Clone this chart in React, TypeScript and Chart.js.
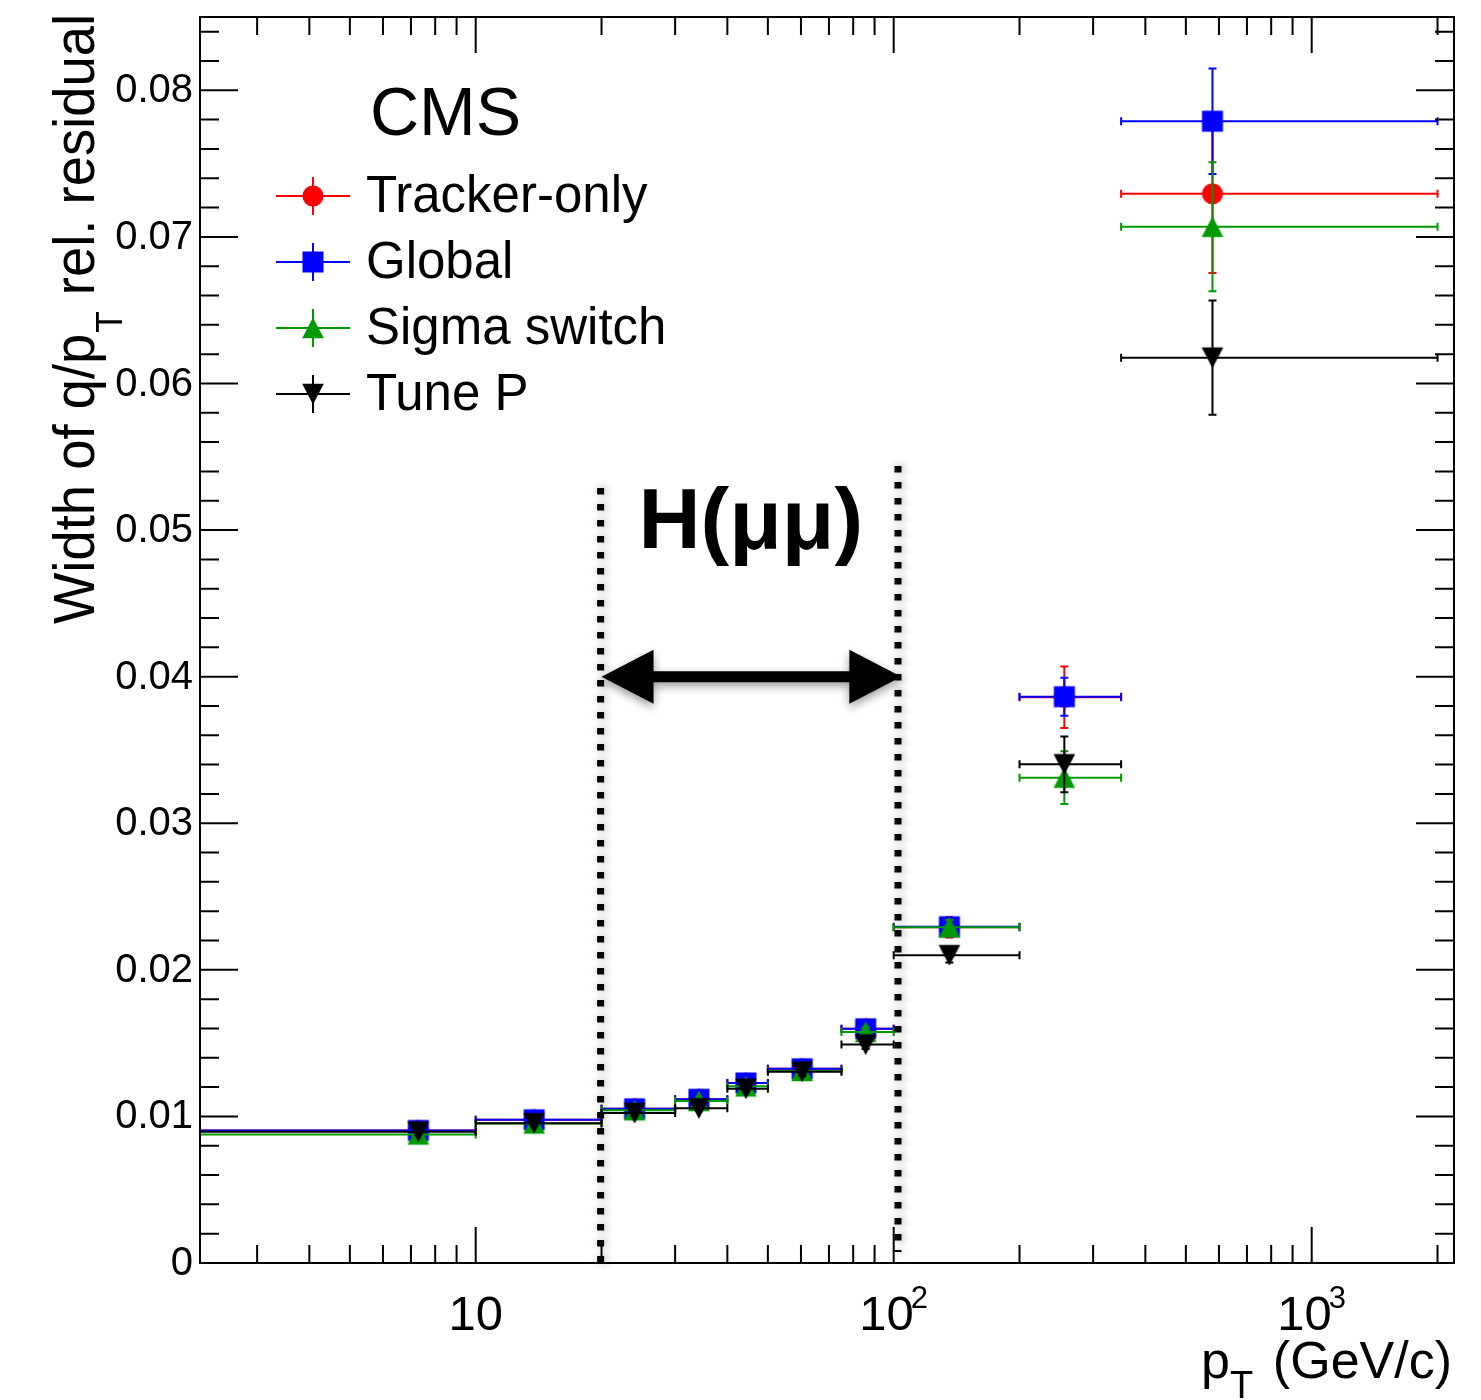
import React, { useEffect, useRef } from "react";
import { Chart, registerables } from "chart.js";

Chart.register(...registerables);

const FONT = '"Liberation Sans", Arial, Helvetica, sans-serif';

// ---------------- data ----------------
// p_T bins (GeV/c)
const binLow = [2, 10, 20, 30, 40, 50, 75, 100, 200, 350];
const binHigh = [10, 20, 30, 40, 50, 75, 100, 200, 350, 2000];
const ptMean = [7.29, 13.8, 24.0, 34.2, 44.3, 60.4, 85.7, 135.9, 256, 579];

const trackerOnly = [0.00904, 0.00977, 0.01052, 0.01117, 0.01228, 0.01325, 0.01598, 0.0229, 0.0386, 0.07294];
const trackerOnlyErr = [0.0002, 0.0002, 0.0002, 0.0002, 0.0002, 0.0003, 0.0003, 0.0007, 0.0021, 0.0054];
const globalMu = [0.00904, 0.00977, 0.01052, 0.01117, 0.01228, 0.01325, 0.01598, 0.02294, 0.03863, 0.07789];
const globalMuErr = [0.0002, 0.0002, 0.0002, 0.0002, 0.0002, 0.0003, 0.0003, 0.0005, 0.0013, 0.0036];
const sigmaSwitch = [0.00877, 0.00952, 0.01042, 0.01105, 0.01205, 0.0131, 0.01576, 0.0229, 0.03311, 0.07069];
const sigmaSwitchErr = [0.0002, 0.0002, 0.0002, 0.0002, 0.0002, 0.0003, 0.0003, 0.0005, 0.0018, 0.0044];
const tuneP = [0.00896, 0.00953, 0.01023, 0.01055, 0.01189, 0.01305, 0.0149, 0.0210, 0.03402, 0.06176];
const tunePErr = [0.0002, 0.0002, 0.0002, 0.0002, 0.0002, 0.0003, 0.0003, 0.0005, 0.0019, 0.0039];

const seriesNames = ["Tracker-only", "Global", "Sigma switch", "Tune P"];
const seriesColors = ["#ff0000", "#0000ff", "#009900", "#000000"];
const seriesMarkers = ["circle", "square", "triangleUp", "triangleDown"];

const yTickValues = [0, 0.01, 0.02, 0.03, 0.04, 0.05, 0.06, 0.07, 0.08];
const yTickLabels = ["0", "0.01", "0.02", "0.03", "0.04", "0.05", "0.06", "0.07", "0.08"];
const xTickValues = [10, 100, 1000];
const xTickBase = ["10", "10", "10"];
const xTickExp = ["", "2", "3"];

const X_MIN = 2.19;
const X_MAX = 2190;
const Y_MIN = 0;
const Y_MAX = 0.085;

// annotation (data coordinates)
const windowLines = [19.9, 102.4];
const windowLineTop = [0.05287, 0.05437];
const windowLineBottom = [-0.00061, 0.00075];
const arrowFrom = 20.0;
const arrowTo = 104.3;
const arrowY = 0.04;
const higgsLabel = "H(\u03bc\u03bc)";
const higgsLabelX = 45.5;
const higgsLabelY = 0.0488;

// ---------------- markers ----------------
function makeMarker(kind: string, color: string): HTMLCanvasElement {
  const c = document.createElement("canvas");
  c.width = 26;
  c.height = 26;
  const g = c.getContext("2d")!;
  g.fillStyle = color;
  g.beginPath();
  if (kind === "circle") {
    g.arc(13, 13, 10.5, 0, Math.PI * 2);
  } else if (kind === "square") {
    g.rect(2.5, 2.5, 21, 21);
  } else if (kind === "triangleUp") {
    g.moveTo(13, 2.5);
    g.lineTo(23.8, 23.2);
    g.lineTo(2.2, 23.2);
    g.closePath();
  } else {
    g.moveTo(2.2, 2.8);
    g.lineTo(23.8, 2.8);
    g.lineTo(13, 23.5);
    g.closePath();
  }
  g.fill();
  return c;
}

const seriesValues = [trackerOnly, globalMu, sigmaSwitch, tuneP];
const seriesErrors = [trackerOnlyErr, globalMuErr, sigmaSwitchErr, tunePErr];

let markerCanvases: HTMLCanvasElement[] = [];

function drawRootPlugin() {
  return {
    id: "rootStyle",
    beforeDatasetDraw(chart: any, args: any) {
      const k = args.index;
      const ctx = chart.ctx as CanvasRenderingContext2D;
      const xs = chart.scales.x;
      const ys = chart.scales.y;
      const a = chart.chartArea;
      const vals = seriesValues[k];
      const errs = seriesErrors[k];
      ctx.save();
      ctx.beginPath();
      ctx.rect(a.left, a.top, a.right - a.left, a.bottom - a.top);
      ctx.clip();
      ctx.strokeStyle = seriesColors[k];
      ctx.lineWidth = 2;
      const cap = 4;
      for (let i = 0; i < vals.length; i++) {
        const px = xs.getPixelForValue(ptMean[i]);
        const py = ys.getPixelForValue(vals[i]);
        const x1 = xs.getPixelForValue(binLow[i]);
        const x2 = xs.getPixelForValue(binHigh[i]);
        const yt = ys.getPixelForValue(vals[i] + errs[i]);
        const yb = ys.getPixelForValue(vals[i] - errs[i]);
        ctx.beginPath();
        ctx.moveTo(x1, py);
        ctx.lineTo(x2, py);
        ctx.moveTo(x1, py - cap);
        ctx.lineTo(x1, py + cap);
        ctx.moveTo(x2, py - cap);
        ctx.lineTo(x2, py + cap);
        ctx.moveTo(px, yt);
        ctx.lineTo(px, yb);
        ctx.moveTo(px - cap, yt);
        ctx.lineTo(px + cap, yt);
        ctx.moveTo(px - cap, yb);
        ctx.lineTo(px + cap, yb);
        ctx.stroke();
      }
      ctx.restore();
    },
    afterDraw(chart: any) {
      const ctx = chart.ctx as CanvasRenderingContext2D;
      const xs = chart.scales.x;
      const ys = chart.scales.y;
      const a = chart.chartArea;
      ctx.save();

      // ---- window lines (dotted, thick, with soft shadow)
      ctx.fillStyle = "#000";
      ctx.shadowColor = "rgba(0,0,0,0.4)";
      ctx.shadowBlur = 9;
      ctx.shadowOffsetX = 2;
      for (let j = 0; j < windowLines.length; j++) {
        const x = xs.getPixelForValue(windowLines[j]);
        const top = ys.getPixelForValue(windowLineTop[j]);
        const bot = ys.getPixelForValue(windowLineBottom[j]);
        for (let y = top; y < bot - 2; y += 16) {
          ctx.fillRect(x - 3.5, y, 7, Math.min(6.5, bot - y));
        }
      }

      // ---- double arrow
      const xl = xs.getPixelForValue(arrowFrom);
      const xr = xs.getPixelForValue(arrowTo);
      const ya = ys.getPixelForValue(arrowY);
      const hl = 52, hh = 27, st = 5.5;
      ctx.shadowColor = "rgba(0,0,0,0.4)";
      ctx.shadowBlur = 10;
      ctx.shadowOffsetX = 0;
      ctx.shadowOffsetY = 4;
      ctx.beginPath();
      ctx.moveTo(xl, ya);
      ctx.lineTo(xl + hl, ya - hh);
      ctx.lineTo(xl + hl, ya - st);
      ctx.lineTo(xr - hl, ya - st);
      ctx.lineTo(xr - hl, ya - hh);
      ctx.lineTo(xr, ya);
      ctx.lineTo(xr - hl, ya + hh);
      ctx.lineTo(xr - hl, ya + st);
      ctx.lineTo(xl + hl, ya + st);
      ctx.lineTo(xl + hl, ya + hh);
      ctx.closePath();
      ctx.fill();
      ctx.shadowColor = "rgba(0,0,0,0)";
      ctx.shadowBlur = 0;
      ctx.shadowOffsetY = 0;
      ctx.shadowOffsetX = 0;

      // ---- H(mumu) label
      ctx.fillStyle = "#000";
      ctx.font = `bold 86px ${FONT}`;
      ctx.textAlign = "center";
      ctx.textBaseline = "alphabetic";
      ctx.fillText(higgsLabel, xs.getPixelForValue(higgsLabelX), ys.getPixelForValue(higgsLabelY));

      // ---- frame
      ctx.strokeStyle = "#000";
      ctx.lineWidth = 2;
      ctx.strokeRect(a.left, a.top, a.right - a.left, a.bottom - a.top);

      // ---- y ticks
      ctx.beginPath();
      for (let n = 0; n * 0.002 <= Y_MAX + 1e-9; n++) {
        const vv = n * 0.002;
        const y = ys.getPixelForValue(vv);
        const major = n % 5 === 0;
        const len = major ? 38 : 19;
        ctx.moveTo(a.left, y);
        ctx.lineTo(a.left + len, y);
        ctx.moveTo(a.right, y);
        ctx.lineTo(a.right - len, y);
      }
      // ---- x ticks (log)
      for (let d = 1; d <= 1000; d *= 10) {
        for (let m = 1; m <= 9; m++) {
          const v = m * d;
          if (v < X_MIN || v > X_MAX) continue;
          const x = xs.getPixelForValue(v);
          const len = m === 1 ? 36 : 18;
          ctx.moveTo(x, a.bottom);
          ctx.lineTo(x, a.bottom - len);
          ctx.moveTo(x, a.top);
          ctx.lineTo(x, a.top + len);
        }
      }
      ctx.stroke();

      // ---- y tick labels
      ctx.fillStyle = "#000";
      ctx.font = `40px ${FONT}`;
      ctx.textAlign = "right";
      ctx.textBaseline = "middle";
      yTickValues.forEach((v, i) => {
        ctx.fillText(yTickLabels[i], 193, ys.getPixelForValue(v) + 1);
      });

      // ---- x tick labels with exponents
      ctx.textBaseline = "alphabetic";
      ctx.textAlign = "left";
      xTickValues.forEach((v, i) => {
        const x = xs.getPixelForValue(v);
        ctx.font = `49px ${FONT}`;
        const wb = ctx.measureText(xTickBase[i]).width;
        ctx.font = `31px ${FONT}`;
        const we = xTickExp[i] ? ctx.measureText(xTickExp[i]).width : 0;
        const total = wb + (we ? we - 3 : 0);
        const x0 = x - total / 2;
        ctx.font = `49px ${FONT}`;
        ctx.fillText(xTickBase[i], x0, 1330);
        if (xTickExp[i]) {
          ctx.font = `31px ${FONT}`;
          ctx.fillText(xTickExp[i], x0 + wb - 3, 1308);
        }
      });

      // ---- x title: p_T (GeV/c)
      ctx.font = `52px ${FONT}`;
      ctx.textAlign = "right";
      ctx.fillText("(GeV/c)", 1452, 1378);
      ctx.textAlign = "left";
      const wp = ctx.measureText("p").width;
      ctx.fillText("p", 1201, 1378);
      ctx.font = `38px ${FONT}`;
      ctx.fillText("T", 1201 + wp, 1398);

      // ---- y title (rotated)
      ctx.save();
      ctx.translate(94, 624);
      ctx.rotate(-Math.PI / 2);
      ctx.textAlign = "left";
      const t1 = "Width of q/p";
      const t2 = " rel. residual";
      ctx.font = `57px ${FONT}`;
      const w1 = ctx.measureText(t1).width;
      const w2 = ctx.measureText(t2).width;
      ctx.font = `37px ${FONT}`;
      const wT = ctx.measureText("T").width;
      const total = w1 + wT + 2 + w2;
      const sx = 610 / total;
      ctx.scale(sx, 1);
      ctx.font = `57px ${FONT}`;
      ctx.fillText(t1, 0, 0);
      ctx.font = `37px ${FONT}`;
      ctx.fillText("T", w1 + 1, 28);
      ctx.font = `57px ${FONT}`;
      ctx.fillText(t2, w1 + wT + 2, 0);
      ctx.restore();

      // ---- CMS label
      ctx.font = `68px ${FONT}`;
      ctx.textAlign = "left";
      ctx.fillText("CMS", 370, 135);

      // ---- legend
      const rows = [196, 262, 328, 394];
      seriesNames.forEach((name, k) => {
        const y = rows[k];
        ctx.strokeStyle = seriesColors[k];
        ctx.lineWidth = 2;
        ctx.beginPath();
        ctx.moveTo(276, y);
        ctx.lineTo(350, y);
        ctx.moveTo(313, y - 19);
        ctx.lineTo(313, y + 19);
        ctx.stroke();
        const mk = markerCanvases[k];
        ctx.drawImage(mk, 313 - mk.width / 2, y - mk.height / 2);
        ctx.fillStyle = "#000";
        ctx.font = `51px ${FONT}`;
        ctx.fillText(name, 366, y + 16);
      });

      ctx.restore();
    },
  };
}

export default function App() {
  const ref = useRef<HTMLCanvasElement | null>(null);
  useEffect(() => {
    if (!ref.current) return;
    markerCanvases = seriesMarkers.map((m, k) => makeMarker(m, seriesColors[k]));
    const datasets = seriesNames.map((name, k) => ({
      label: name,
      data: seriesValues[k].map((v, i) => ({ x: ptMean[i], y: v })),
      pointStyle: markerCanvases[k],
      pointRadius: 11,
      pointHoverRadius: 11,
      showLine: false,
      backgroundColor: seriesColors[k],
      borderColor: seriesColors[k],
      order: 4 - k,
    }));
    const chart = new Chart(ref.current, {
      type: "scatter",
      data: { datasets } as any,
      options: {
        animation: false,
        responsive: false,
        devicePixelRatio: 1,
        events: [],
        layout: { padding: { left: 200, right: 27, top: 17, bottom: 137 } },
        plugins: { legend: { display: false }, tooltip: { enabled: false } },
        scales: {
          x: { type: "logarithmic", min: X_MIN, max: X_MAX, display: false },
          y: { type: "linear", min: Y_MIN, max: Y_MAX, display: false },
        },
      } as any,
      plugins: [drawRootPlugin() as any],
    });
    return () => chart.destroy();
  }, []);
  return (
    <div style={{ position: "absolute", left: 0, top: 0, width: 1481, height: 1400, background: "#fff" }}>
      <canvas ref={ref} width={1481} height={1400} style={{ display: "block" }} />
    </div>
  );
}
